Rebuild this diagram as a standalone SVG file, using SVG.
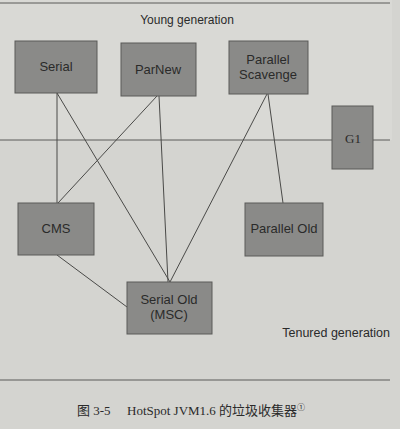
<svg xmlns="http://www.w3.org/2000/svg" width="400" height="429" viewBox="0 0 400 429">
<style>
.box{fill:#8a8a88;stroke:#5a5a58;stroke-width:1}
.lbl{font-family:"Liberation Sans",Arial,sans-serif;font-size:13px;fill:#2a2a2a;text-anchor:middle}
.g1{font-family:"Liberation Serif","Times New Roman",serif;font-size:13px;fill:#2a2a2a;text-anchor:middle}
.cap{font-family:"Liberation Serif","Noto Sans CJK SC",serif;font-size:13px;fill:#2a2a2a}
.conn line{stroke:#4a4a48;stroke-width:1}
.rule{stroke:#5a5a58;stroke-width:1}
</style>
<rect x="0" y="0" width="400" height="429" fill="#d4d4d0"/>
<rect x="0" y="0" width="392" height="140" fill="#d9d9d5"/>
<line class="rule" x1="0" y1="3" x2="390" y2="3"/>
<line class="rule" x1="0" y1="140" x2="390" y2="140"/>
<line class="rule" x1="0" y1="380" x2="390" y2="380"/>
<text class="lbl" x="187" y="24" style="font-size:12px">Young generation</text>
<text class="lbl" x="390" y="337" style="text-anchor:end;font-size:12.5px">Tenured generation</text>
<g class="conn" id="connectors">
<line x1="57" y1="93" x2="57" y2="203"/>
<line x1="57" y1="93" x2="170" y2="282"/>
<line x1="157" y1="96" x2="58" y2="203"/>
<line x1="159" y1="96" x2="168" y2="282"/>
<line x1="267" y1="94" x2="170" y2="282"/>
<line x1="268" y1="94" x2="283" y2="203"/>
<line x1="57" y1="255" x2="127" y2="307"/>
</g>
<g id="serial"><rect class="box" x="15" y="41" width="82" height="52"/><text class="lbl" x="56" y="71">Serial</text></g>
<g id="parnew"><rect class="box" x="121" y="43" width="75" height="53"/><text class="lbl" x="158" y="74">ParNew</text></g>
<g id="parallel-scavenge"><rect class="box" x="229" y="41" width="79" height="53"/><text class="lbl" x="268" y="64">Parallel</text><text class="lbl" x="268" y="79">Scavenge</text></g>
<g id="g1"><rect class="box" x="332" y="106" width="41" height="63"/><text class="g1" x="353" y="143">G1</text></g>
<g id="cms"><rect class="box" x="18" y="203" width="76" height="52"/><text class="lbl" x="56" y="233">CMS</text></g>
<g id="parallel-old"><rect class="box" x="245" y="203" width="78" height="53"/><text class="lbl" x="284" y="233">Parallel Old</text></g>
<g id="serial-old"><rect class="box" x="127" y="282" width="85" height="52"/><text class="lbl" x="169" y="304">Serial Old</text><text class="lbl" x="169" y="319">(MSC)</text></g>
<text class="cap" x="77" y="415">图 3-5<tspan x="127">HotSpot JVM1.6 的垃圾收集器</tspan><tspan font-size="8" dy="-5">①</tspan></text>
</svg>
